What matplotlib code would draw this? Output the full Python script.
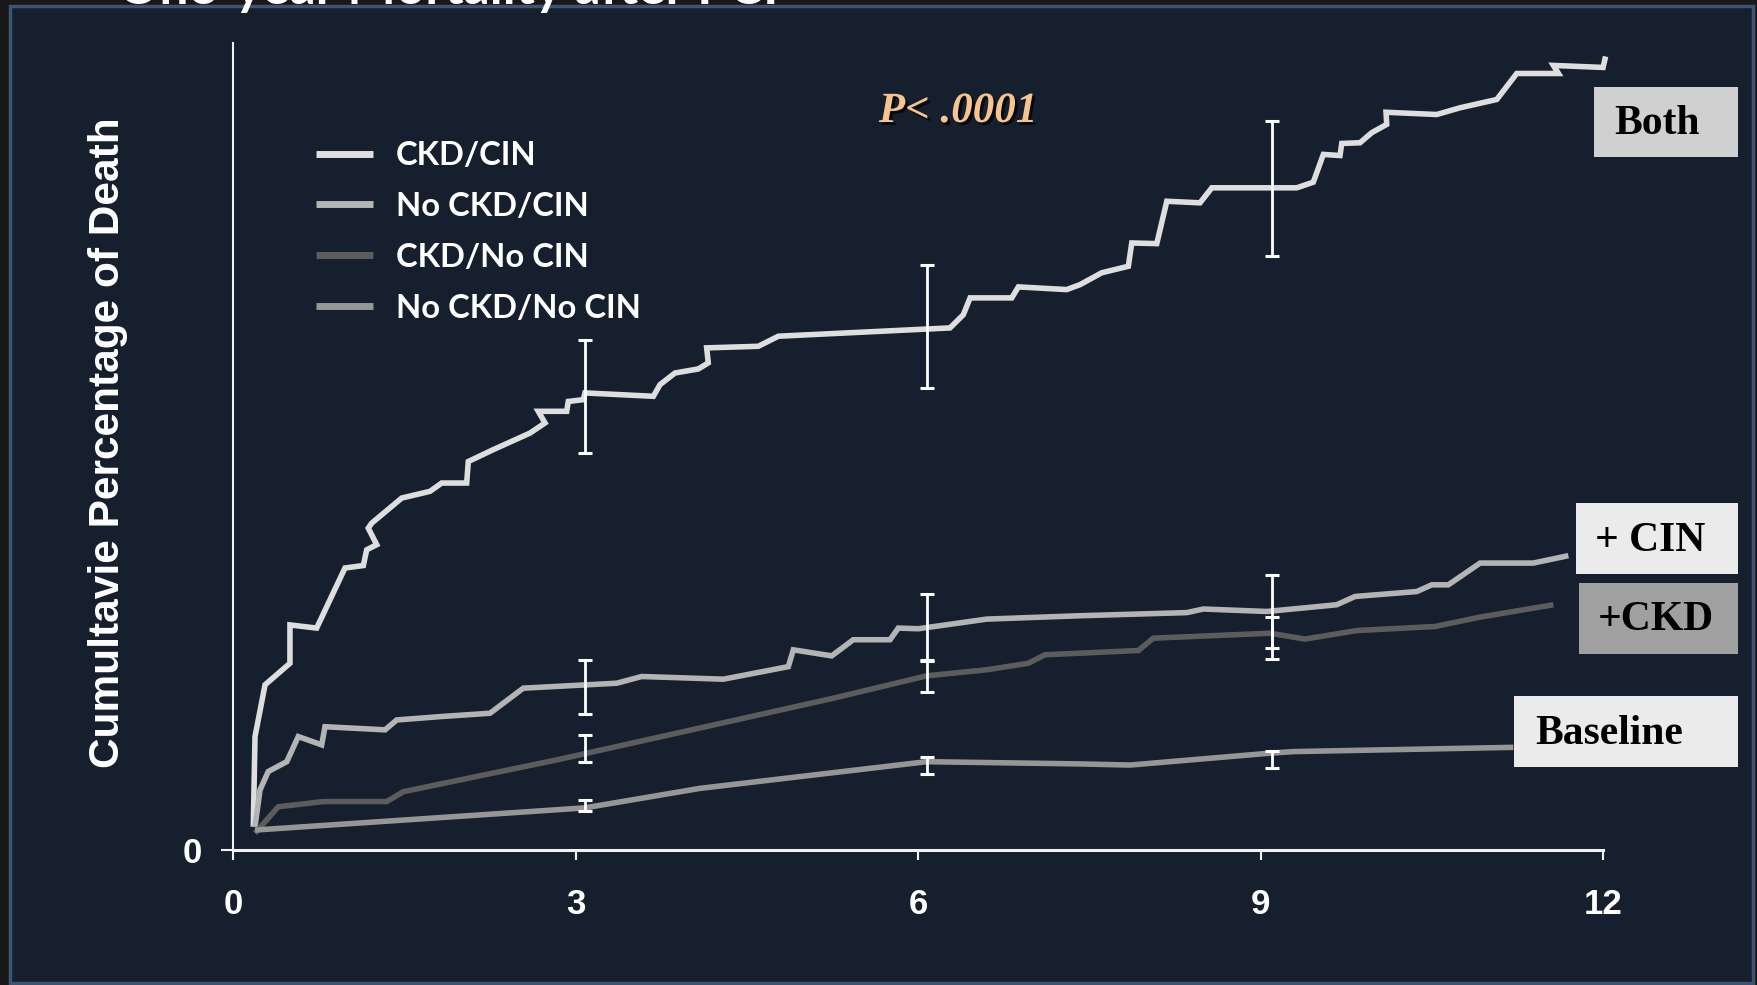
#!/usr/bin/env python3
# One-year mortality after PCI: cumulative death by CKD / CIN group
import matplotlib
matplotlib.use('Agg')
import matplotlib.pyplot as plt
from matplotlib.patches import Rectangle
import matplotlib.patheffects as pe

W, H = 1758, 985

# data (months, cumulative percentage)
both_x = [0.176, 0.191, 0.279, 0.497, 0.497, 0.731, 0.979, 1.140, 1.169, 1.257, 1.183, 1.213,
          1.476, 1.724, 1.826, 2.045, 2.059, 2.278, 2.600, 2.731, 2.672, 2.921, 2.935, 3.067,
          3.081, 3.680, 3.738, 3.870, 4.074, 4.161, 4.147, 4.599, 4.775, 6.278, 6.395, 6.454,
          6.819, 6.877, 7.300, 7.417, 7.607, 7.840, 7.870, 8.089, 8.177, 8.468, 8.571, 9.315,
          9.460, 9.548, 9.694, 9.709, 9.869, 9.972, 10.103, 10.097, 10.541, 10.745, 11.067,
          11.242, 11.607, 11.563, 11.998, 12.02]
both_y = [1.04, 5.06, 7.37, 8.33, 10.04, 9.90, 12.58, 12.69, 13.39, 13.62, 14.36, 14.58,
          15.70, 16.00, 16.37, 16.37, 17.33, 17.86, 18.60, 19.05, 19.57, 19.57, 20.01, 20.09,
          20.39, 20.24, 20.76, 21.28, 21.46, 21.73, 22.40, 22.47, 22.92, 23.29, 23.88, 24.63,
          24.63, 25.12, 25.00, 25.22, 25.75, 26.04, 27.08, 27.05, 28.94, 28.87, 29.54, 29.54,
          29.79, 31.03, 30.98, 31.52, 31.55, 32.00, 32.37, 32.91, 32.81, 33.11, 33.48,
          34.64, 34.64, 35.00, 34.91, 35.40]

cin_x = [0.191, 0.235, 0.307, 0.469, 0.570, 0.775, 0.804, 1.330, 1.432, 1.811, 2.249, 2.541,
         3.359, 3.578, 4.293, 4.862, 4.906, 5.242, 5.431, 5.753, 5.825, 6.001, 6.600, 7.417,
         8.352, 8.497, 9.052, 9.665, 9.826, 10.366, 10.498, 10.643, 10.921, 11.387, 11.694]
cin_y = [1.04, 2.68, 3.50, 3.94, 5.06, 4.69, 5.50, 5.36, 5.80, 5.95, 6.10, 7.22,
         7.44, 7.74, 7.62, 8.18, 8.93, 8.66, 9.38, 9.38, 9.90, 9.87, 10.30, 10.45,
         10.59, 10.75, 10.64, 10.94, 11.31, 11.53, 11.83, 11.83, 12.80, 12.80, 13.13]

ckd_x = [0.191, 0.395, 0.789, 1.345, 1.490, 2.862, 5.256, 6.074, 6.600, 6.964, 7.110, 7.417,
         7.928, 8.059, 9.081, 9.388, 9.841, 10.527, 10.921, 11.563]
ckd_y = [0.75, 1.93, 2.16, 2.16, 2.60, 4.05, 6.77, 7.77, 8.04, 8.33, 8.71, 8.78,
         8.90, 9.45, 9.67, 9.41, 9.79, 9.97, 10.39, 10.94]

base_x = [0.191, 3.081, 4.089, 6.074, 7.417, 7.855, 9.081, 9.285, 11.212]
base_y = [0.89, 1.88, 2.75, 3.94, 3.84, 3.79, 4.32, 4.39, 4.58]

err_x = [3.08, 6.08, 9.1]
both_err_y = [20.25, 23.36, 29.5]
both_err = [2.52, 2.75, 3.01]
cin_err_y = [7.28, 9.92, 10.64]
cin_err = [1.21, 1.50, 1.64]
ckd_err_y = [4.53, 7.77, 9.45]
ckd_err = [0.60, 0.71, 0.94]
base_err_y = [2.0, 3.76, 4.04]
base_err = [0.24, 0.38, 0.39]

labels = ['CKD/CIN', 'No CKD/CIN', 'CKD/No CIN', 'No CKD/No CIN']
colors = ['#dedede', '#b4b4b4', '#5c5c5c', '#969696']
x_ticks = [0, 3, 6, 9, 12]


def fx(px):
    return px / W


def fy(py):
    return 1 - py / H


fig = plt.figure(figsize=(W / 100, H / 100), dpi=100)
fig.patch.set_facecolor('#181818')
fig.patches.append(Rectangle((fx(10), fy(982.5)), fx(1753) - fx(10), fy(6) - fy(982.5),
                             transform=fig.transFigure, facecolor='#151f2e',
                             edgecolor='#3d5471', lw=2.5, zorder=-5))

# slide title, cut off at the very top like in the slide
fig.text(fx(118), fy(4), 'One-year Mortality after PCI', ha='left', va='baseline',
         fontsize=37, color='white', family='Lato', weight='bold')

ax = fig.add_axes([fx(233.2), fy(850), fx(1603.3) - fx(233.2), (850 - 43) / H])
ax.set_facecolor('none')

series = [(both_x, both_y), (cin_x, cin_y), (ckd_x, ckd_y), (base_x, base_y)]
for (sx, sy), lab, col in zip(series, labels, colors):
    ax.plot(sx, sy, color=col, lw=4.0, label=lab, clip_on=False,
            solid_joinstyle='miter', solid_capstyle='butt', zorder=3)

for ey, eh in [(both_err_y, both_err), (cin_err_y, cin_err),
               (ckd_err_y, ckd_err), (base_err_y, base_err)]:
    ax.errorbar(err_x, ey, yerr=eh, fmt='none', ecolor='white', elinewidth=2.0,
                capsize=5, capthick=2.2, zorder=5)

ax.set_xlim(0, 12)
ax.set_ylim(0, 36)
for s in ['top', 'right']:
    ax.spines[s].set_visible(False)
ax.spines['left'].set_color('#f2f2f2')
ax.spines['left'].set_linewidth(1.5)
ax.spines['bottom'].set_color('#f2f2f2')
ax.spines['bottom'].set_linewidth(2.2)

ax.set_xticks(x_ticks)
ax.set_xticklabels([str(t) for t in x_ticks])
ax.set_yticks([0])
ax.set_yticklabels(['0'])
ax.tick_params(axis='x', direction='out', length=7.5, width=1.5, color='#f2f2f2', pad=20)
ax.tick_params(axis='y', direction='out', length=8.6, width=1.5, color='#f2f2f2', pad=14)
for t in ax.get_xticklabels() + ax.get_yticklabels():
    t.set_family('Liberation Sans')
    t.set_weight('bold')
    t.set_fontsize(25)
    t.set_color('white')

fig.text(fx(108), fy(443), 'Cumultavie Percentage of Death', rotation=90, ha='center',
         va='center', fontsize=30.5, weight='bold', family='Liberation Sans', color='white')

leg = ax.legend(loc='upper left', bbox_to_anchor=(fx(316), fy(141)),
                bbox_transform=fig.transFigure, frameon=False, borderpad=0,
                borderaxespad=0, handlelength=1.75, handletextpad=0.68, labelspacing=0.67,
                prop={'family': 'Lato', 'weight': 'bold', 'size': 23.6})
for line in leg.get_lines():
    line.set_linewidth(5)
for t in leg.get_texts():
    t.set_color('white')

fig.text(fx(958), fy(112), 'P< .0001', ha='center', va='center', fontsize=31,
         family='Liberation Serif', style='italic', weight='bold', color='#f6c48e',
         path_effects=[pe.withSimplePatchShadow(offset=(2, -2), shadow_rgbFace='black', alpha=0.7)])

# group labels at the right end of the curves
boxes = [('Both', 1594, 87.5, 1738, 157, '#d0d0d0', 1657),
         ('+ CIN', 1576.4, 503.4, 1738, 574, '#ebebeb', 1650),
         ('+CKD', 1578.6, 583, 1738, 653.7, '#a0a0a0', 1656),
         ('Baseline', 1513.6, 696.3, 1738, 766.9, '#ebebeb', 1609)]
for txt, x0, y0, x1, y1, fc, tx in boxes:
    fig.patches.append(Rectangle((fx(x0), fy(y1)), fx(x1) - fx(x0), fy(y0) - fy(y1),
                                 transform=fig.transFigure, facecolor=fc, edgecolor='none',
                                 zorder=4))
    fig.text(fx(tx), fy((y0 + y1) / 2 + 2), txt, ha='center', va='center', fontsize=30,
             family='Liberation Serif', weight='bold', color='black', zorder=6)

fig.savefig('out.png', dpi=100, facecolor=fig.get_facecolor())
